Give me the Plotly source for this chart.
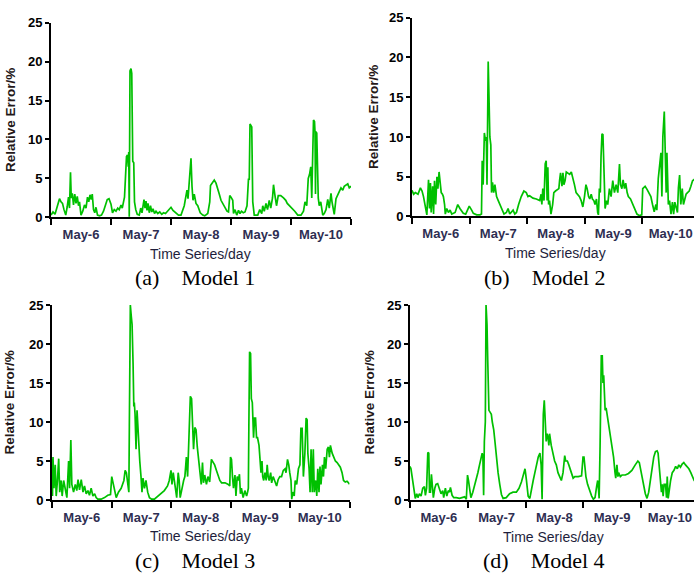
import plotly.graph_objects as go

W, H = 694, 582

day_labels = ["May-6", "May-7", "May-8", "May-9", "May-10"]
y_ticks = [0, 5, 10, 15, 20, 25]

# ---- Model 1: relative error (%) against hours since May-6 00:00 ----
m1_hours = [
    0, 0.8, 1.6, 2.4, 3.0, 3.4, 4.0, 4.6, 5.2, 5.9,
    6.5, 7.0, 7.4, 7.8, 8.1, 8.5, 9.0, 9.5, 10.0, 10.5,
    11.0, 11.4, 12.0, 12.7, 13.4, 14.0, 14.6, 15.1, 15.6, 16.1,
    16.5, 17.0, 17.5, 18.0, 18.6, 19.4, 20.2, 21.0, 21.8, 22.5,
    23.2, 24.0,
    24.6, 25.3, 26.0, 26.7, 27.3, 28.0, 28.5, 29.0, 29.4, 29.8,
    30.2, 30.6, 30.9, 31.1, 31.3, 31.6, 32.0, 32.3, 32.5, 32.7,
    33.1, 33.4, 33.9, 34.5, 35.3, 35.9, 36.4, 36.8, 37.2, 37.6,
    38.0, 38.4, 38.8, 39.3, 39.8, 40.3, 40.8, 41.4, 42.0, 42.7,
    43.5, 44.3, 45.0, 45.8, 46.6, 47.3, 48.0,
    48.8, 50.0, 51.0, 52.0, 53.3, 54.0, 54.4, 54.8, 55.5, 56.0,
    56.4, 56.8, 57.3, 58.0, 58.7, 59.7, 60.7, 61.5, 62.7, 63.5,
    63.8, 64.5, 65.3, 66.0, 66.6, 67.3, 68.0, 68.7, 69.5, 70.4,
    71.0, 71.5,
    72.0, 72.7, 73.0, 73.6, 74.3, 75.0, 75.6, 76.2, 76.9, 77.6,
    78.4, 78.8, 79.0, 79.3, 79.6, 80.3, 80.5, 80.7, 81.3, 82.7,
    83.5, 84.3, 84.7, 85.3, 86.0, 86.6, 87.3, 87.9, 88.6, 89.0,
    89.5, 90.2, 90.9, 91.9, 93.0, 93.9, 94.5, 95.5,
    96.5, 97.5, 98.7, 100.0, 101.0, 101.6, 102.3, 102.9, 103.4, 103.9,
    104.3, 104.6, 105.0, 105.4, 105.6, 105.8, 106.0, 106.3, 106.6, 106.9,
    107.3, 107.9, 108.7, 109.3, 110.0, 110.7, 111.3, 112.0, 112.4, 112.9,
    113.3, 114.0, 114.7, 115.3, 116.0, 116.7, 117.3, 118.0, 118.7, 119.3,
    120.0,
]
m1_err = [
    0.3, 0.7, 0.4, 1.2, 1.8, 2.4, 2.0, 1.8, 1.0, 0.3,
    1.4, 2.6, 1.2, 5.8, 2.5, 3.1, 1.6, 3.0, 1.8, 2.7,
    1.5, 2.0, 0.3, 0.8, 1.6, 1.2, 2.6, 2.0, 2.9, 2.3,
    3.0, 1.0, 0.6, 1.3, 0.3, 0.2, 0.3, 0.8, 1.6, 2.3,
    2.4, 1.7,
    0.6, 1.0, 0.8, 1.2, 1.0, 1.6, 1.2, 2.0, 2.6, 5.2,
    7.8, 8.0, 6.5, 8.4, 0.1, 18.8, 19.1, 18.5, 14.5, 7.2,
    7.0, 2.0, 1.0, 0.4, 0.3, 1.2, 0.6, 1.9, 2.3, 1.2,
    2.1, 0.9, 1.8, 0.6, 1.5, 0.7, 1.1, 0.5, 0.8, 0.5,
    0.7, 0.4, 0.6, 0.5, 0.8, 1.1, 1.3,
    0.9, 0.5, 0.3, 0.3, 1.5, 2.8, 3.5, 2.4, 5.5, 7.6,
    4.0, 2.2, 3.0, 1.8, 1.5, 0.6, 0.3, 0.2, 0.5, 2.0,
    4.1, 4.4, 4.8, 4.4, 3.6, 3.0, 2.2, 1.8, 1.3, 0.8,
    0.7, 2.8,
    2.6, 2.2, 0.5, 1.0, 0.3, 0.9, 0.5, 0.8, 0.6, 0.7,
    1.5, 3.5, 5.0, 4.8, 12.0, 11.6, 4.0, 2.0, 0.3, 0.3,
    1.0, 0.5, 1.5, 0.8, 1.8, 1.0, 2.2, 1.2, 2.5, 4.2,
    3.0, 1.5, 2.8, 2.8, 2.5, 2.2, 1.8, 1.5,
    1.2, 0.8, 0.3, 0.3, 0.8, 2.0, 1.5, 5.0, 5.5, 6.5,
    2.5, 8.0, 12.5, 12.3, 11.0, 3.0, 11.0, 10.8, 3.0, 2.5,
    1.5, 2.0, 0.3, 0.5, 1.0, 2.3, 1.2, 3.1, 2.0, 1.0,
    0.4, 2.4, 3.0, 3.3, 3.8, 3.5, 4.0, 4.1, 4.3, 3.8,
    4.0,
]

# ---- Model 2 ----
m2_hours = [
    0, 0.7, 1.4, 2.5, 3.5, 4.2, 4.8, 5.5, 6.2, 6.9,
    7.3, 7.7, 8.0, 8.6, 9.0, 9.4, 9.9, 10.4, 10.8, 11.3,
    11.8, 12.2, 12.7, 13.1, 13.6, 13.9, 14.5, 15.2, 15.9, 16.6,
    18.0, 19.1, 20.0, 20.7, 21.4, 22.4, 23.2, 23.9, 24.9, 25.6,
    27.0, 28.4, 29.0, 29.3, 29.7, 30.2, 30.7, 31.0, 31.3, 31.8,
    32.1, 32.5, 32.9, 33.2, 33.6, 34.1, 34.6, 35.3, 36.0, 36.7,
    37.6, 38.4, 39.4, 40.1, 40.8, 41.5, 42.2, 42.9, 43.6, 44.5,
    45.6, 46.7, 47.7, 48.4, 49.1, 50.5, 51.9, 53.3, 53.9, 54.2,
    54.6, 55.1, 55.6, 56.0, 56.4, 56.7, 57.0, 57.4, 58.0, 58.7,
    59.2, 59.9, 60.6, 61.3, 61.6, 62.0, 62.6, 63.0, 63.4, 63.9,
    64.4, 65.1, 65.8, 66.5, 67.1, 67.8, 68.5, 69.2, 69.9, 70.6,
    71.3, 72.0, 72.6, 73.1, 73.7, 74.2, 74.8, 75.3, 75.9, 76.4,
    77.0, 77.5, 77.8, 78.2, 78.6, 78.9, 79.3, 79.7, 80.0, 80.3,
    80.6, 81.2, 81.7, 82.4, 83.1, 83.8, 84.5, 85.2, 85.9, 86.6,
    87.0, 87.6, 88.1, 88.7, 89.2, 89.8, 90.3, 91.2, 91.7, 92.6,
    93.1, 93.9, 94.9, 95.9, 96.3, 97.3, 98.1, 99.1, 99.7, 100.4,
    101.1, 101.8, 102.2, 102.8, 103.3, 103.9, 104.3, 104.7, 105.3, 105.7,
    106.1, 106.4, 107.0, 107.5, 108.1, 108.7, 109.2, 109.7, 110.3, 110.8,
    111.2, 111.7, 112.2, 112.8, 113.3, 113.9, 114.4, 115.0, 115.7, 116.4,
    117.1, 118.5,
]
m2_err = [
    3.3, 2.8, 3.0, 2.8, 3.6, 3.2, 2.5, 1.5, 0.2, 4.6,
    1.0, 4.2, 0.5, 3.8, 0.3, 4.5, 1.5, 5.0, 3.5, 5.6,
    3.5, 3.0, 2.8, 2.5, 1.5, 0.3, 1.0, 0.5, 0.8, 0.3,
    0.5, 1.5, 1.0, 0.6, 0.4, 0.3, 0.8, 1.3, 0.8, 0.4,
    0.2, 0.2, 0.3, 7.0, 4.0, 10.5, 9.5, 10.0, 4.0, 19.5,
    15.5, 10.0, 9.0, 3.0, 4.3, 3.0, 4.0, 2.5, 2.0, 1.5,
    0.8, 0.3, 0.5, 1.0, 0.3, 0.5, 0.8, 0.3, 0.5, 1.5,
    2.5, 3.2, 3.0, 2.5, 2.6, 2.3, 2.2, 2.0, 2.8, 1.5,
    3.5, 2.0, 6.6, 7.0, 2.0, 6.2, 1.5, 2.0, 0.3, 1.5,
    3.0, 3.2, 3.3, 3.5, 4.5, 5.5, 3.8, 5.5, 4.0, 4.5,
    5.6, 5.5, 5.3, 5.6, 5.0, 4.0, 3.0, 2.7, 2.5, 2.0,
    1.2, 2.5, 4.0, 3.5, 2.5, 2.2, 2.8, 2.2, 2.0, 1.5,
    2.2, 0.5, 0.2, 3.5, 3.0, 7.5, 10.4, 10.3, 7.0, 4.0,
    1.0, 2.0, 1.5, 3.5, 2.5, 4.5, 3.0, 4.0, 3.0, 6.6,
    4.0, 3.5, 4.6, 3.5, 4.2, 3.0, 2.5, 2.2, 1.8, 1.2,
    0.8, 0.3, 0.1, 0.2, 3.5, 3.8, 3.4, 2.8, 2.5, 1.5,
    0.6, 1.5, 0.8, 4.8, 6.5, 8.0, 2.5, 10.0, 13.2, 7.0,
    3.0, 8.0, 1.5, 2.0, 0.3, 1.8, 0.3, 1.8, 1.2, 0.5,
    3.6, 5.2, 1.5, 3.5, 1.5, 2.5, 2.8, 3.0, 3.2, 3.8,
    4.5, 4.8,
]

# ---- Model 3 ----
m3_hours = [
    0, 0.2, 0.4, 0.8, 1.3, 1.7, 2.2, 2.7, 3.1, 3.7,
    4.1, 4.7, 5.3, 6.0, 6.7, 7.1, 7.6, 8.0, 8.7, 9.4,
    10.0, 10.5, 11.1, 11.8, 12.5, 13.1, 13.8, 14.5, 15.1, 15.8,
    16.5, 17.2, 17.8, 18.5, 19.8, 21.2, 22.5, 23.6,
    24.1, 24.7, 25.2, 25.9, 26.8, 27.9, 29.0, 29.5, 30.0, 30.6,
    31.0, 31.2, 31.6, 32.0, 32.3, 32.7, 33.0, 33.2, 33.5, 33.9,
    34.3, 34.7, 35.0, 35.4, 35.9, 36.3, 36.7, 37.3, 37.9, 38.6,
    39.3, 40.2, 41.3, 42.6, 44.0, 45.3, 46.6, 47.3, 48.0, 48.4,
    48.9, 49.6, 50.3, 50.9, 51.3, 51.7, 52.4, 53.1, 53.6, 54.2,
    54.7, 55.4, 55.8, 56.3, 56.7, 57.1, 57.6, 58.1, 58.6, 59.2,
    59.7, 60.2, 60.7, 61.1, 61.6, 62.3, 62.9, 63.6, 64.3, 65.0,
    65.6, 66.3, 67.0, 67.7, 68.4, 69.8, 71.1, 71.7, 72.0, 72.4,
    72.8, 73.2, 73.8, 74.2, 74.7, 75.2, 75.6, 76.0, 76.4, 77.1,
    77.8, 78.5, 78.9, 79.2, 79.4, 79.7, 80.1, 80.4, 80.8, 81.0,
    81.3, 81.7, 82.1, 82.5, 82.9, 83.5, 83.9, 84.3, 84.7, 85.0,
    85.4, 85.9, 86.4, 86.8, 87.2, 87.6, 88.2, 88.6, 89.2, 89.9,
    90.6, 91.2, 91.9, 92.6, 93.3, 94.0, 94.4, 95.0, 95.5, 95.9,
    96.4, 96.7, 97.1, 97.7, 98.1, 98.7, 99.4, 100.0, 100.4, 100.9,
    101.4, 102.0, 102.5, 102.9, 103.2, 103.7, 104.1, 104.5, 105.0, 105.4,
    105.8, 106.4, 106.8, 107.2, 107.7, 108.1, 108.5, 109.1, 109.5, 109.9,
    110.4, 111.0, 111.5, 111.9, 112.3, 113.0, 113.7, 114.3, 115.0, 115.6,
    116.3, 117.0, 117.6, 118.3, 119.0, 119.6, 120.0,
]
m3_err = [
    5.3, 0.5, 5.5, 1.5, 4.5, 0.5, 2.5, 5.3, 1.0, 2.5,
    0.5, 2.5, 1.5, 0.3, 5.0, 1.5, 7.7, 2.0, 1.0, 2.0,
    1.2, 2.6, 1.3, 2.6, 1.0, 1.8, 0.8, 1.2, 0.6, 1.5,
    0.5, 0.8, 0.3, 0.1, 0.1, 0.3, 0.6, 0.7,
    3.0, 2.0, 1.0, 0.3, 1.0, 1.5, 2.5, 3.8, 3.5, 2.0,
    1.0, 9.5, 25.0, 23.5, 22.5, 17.5, 12.0, 12.5, 11.0, 6.5,
    11.5, 9.0, 6.0, 5.0, 3.0, 1.0, 2.8, 1.5, 2.5, 1.0,
    0.3, 0.1, 0.1, 0.5, 0.8, 1.2, 1.8, 2.5, 3.8, 2.0,
    3.5, 1.5, 0.3, 3.5, 2.5, 0.3, 1.5, 2.5, 3.0, 5.5,
    3.0, 10.0, 13.3, 13.0, 10.0, 6.5, 9.3, 9.0, 6.8, 5.0,
    4.0, 2.0, 4.8, 2.2, 3.2, 2.0, 3.0, 2.3, 5.2, 4.8,
    4.5, 3.8, 3.0, 2.5, 2.2, 2.2, 2.0, 1.8, 5.5, 5.2,
    3.0, 1.5, 3.2, 0.5, 3.0, 2.5, 3.3, 0.8, 1.5, 0.3,
    1.2, 0.5, 1.0, 1.5, 9.3, 19.0, 18.8, 13.0, 12.5, 11.0,
    8.0, 10.5, 10.5, 8.0, 8.0, 7.0, 5.0, 3.5, 5.0, 3.0,
    2.5, 3.5, 2.5, 4.5, 3.0, 2.5, 3.5, 2.2, 3.0, 2.3,
    1.8, 2.6, 3.0, 3.0, 3.8, 4.0, 3.5, 5.2, 4.5, 3.5,
    2.5, 0.1, 1.0, 0.5, 2.5, 2.0, 4.0, 4.5, 9.2, 9.2,
    3.0, 6.0, 10.5, 10.3, 6.0, 4.0, 1.0, 6.5, 1.0, 6.5,
    1.0, 2.5, 0.5, 4.0, 1.0, 4.3, 2.0, 4.5, 3.0, 5.5,
    4.0, 6.5, 6.8, 5.5, 7.0, 6.0, 5.5, 5.0, 4.8, 4.5,
    4.2, 3.5, 2.5, 2.3, 2.4, 2.2, 2.0,
]

# ---- Model 4 ----
m4_hours = [
    0, 0.4, 1.1, 1.8, 2.2, 2.8, 3.3, 3.9, 4.6, 5.3,
    6.0, 6.4, 6.9, 7.4, 7.8, 8.1, 8.5, 8.9, 9.3, 9.7,
    10.3, 10.8, 11.5, 12.2, 12.9, 13.6, 14.0, 14.7, 15.3, 15.9,
    16.4, 16.8, 17.5, 18.2, 19.2, 20.6, 21.7, 22.7, 23.4, 23.9,
    24.3, 24.8, 25.3, 26.1, 26.8, 27.5, 28.2, 28.9, 29.6, 30.0,
    30.3, 30.6, 30.9, 31.3, 31.6, 32.0, 32.3, 32.5, 32.8, 33.4,
    33.8, 34.2, 34.8, 35.3, 35.9, 36.6, 37.3, 38.0, 38.7, 40.0,
    41.4, 42.8, 44.2, 45.3, 46.3, 47.3, 47.8, 48.4, 49.1, 49.8,
    50.5, 51.2, 51.9, 52.6, 53.3, 54.0, 54.5, 54.9, 55.4, 55.8,
    56.2, 56.6, 57.0, 57.4, 57.7, 58.0, 58.7, 59.4, 60.1, 60.8,
    61.5, 62.2, 62.9, 63.6, 64.3, 64.7, 65.4, 66.0, 66.5, 67.1,
    67.8, 68.5, 69.9, 71.3, 71.9, 72.3, 72.7, 73.1, 73.8, 74.8,
    75.5, 76.2, 76.9, 77.6, 78.0, 78.3, 78.6, 79.0, 79.5, 79.9,
    80.2, 80.5, 80.8, 81.1, 81.5, 81.9, 82.5, 83.2, 83.9, 84.6,
    85.2, 85.5, 86.0, 86.4, 86.7, 87.4, 88.1, 89.5, 90.8, 92.2,
    93.6, 94.7, 95.3, 95.8, 96.4, 97.1, 97.8, 98.5, 99.2, 99.9,
    100.6, 101.3, 102.0, 102.7, 103.1, 103.7, 104.1, 104.5, 104.8, 105.2,
    105.6, 106.2, 106.6, 106.9, 107.3, 107.9, 108.3, 109.0, 109.7, 110.4,
    111.1, 111.7, 112.4, 113.1, 113.8, 114.5, 115.2, 115.9, 116.7, 117.4,
    118.1, 118.8,
]
m4_err = [
    4.3, 4.0, 2.5, 1.0, 0.2, 0.8, 0.3, 0.8, 0.5, 1.5,
    1.7, 0.6, 1.5, 6.1, 6.0, 1.0, 1.0, 3.3, 1.0, 0.3,
    1.5, 2.0, 2.1, 1.5, 0.8, 1.2, 0.3, 1.5, 0.5, 1.2,
    1.0, 1.6, 0.6, 0.3, 0.3, 0.2, 0.3, 0.4, 0.1, 3.2,
    2.5, 1.0, 0.3, 1.0, 1.8, 2.5, 3.5, 4.5, 5.5, 6.0,
    5.5, 0.6, 7.5, 10.0, 25.0, 22.5, 18.0, 15.0, 11.5, 11.2,
    11.0, 10.0, 9.0, 7.5, 5.5, 3.5, 2.0, 0.7, 0.2, 0.3,
    0.8, 1.0, 1.0, 1.5, 2.3, 3.5, 4.0, 2.5, 0.5, 0.2,
    1.5, 2.5, 3.5, 4.5, 5.5, 6.0, 4.5, 0.1, 11.0, 12.8,
    10.0, 7.5, 8.5, 8.0, 7.0, 8.5, 7.0, 6.0, 5.0, 4.5,
    3.5, 3.0, 2.5, 3.5, 5.7, 5.0, 5.0, 4.5, 4.0, 3.5,
    2.8, 3.0, 3.0, 3.1, 5.5, 5.5, 4.0, 3.0, 2.0, 1.0,
    0.5, 0.1, 0.3, 1.8, 2.5, 1.5, 0.2, 7.0, 18.5, 18.5,
    15.0, 16.0, 13.0, 11.5, 11.8, 11.0, 10.0, 8.5, 7.0, 5.5,
    3.5, 2.8, 4.5, 3.0, 3.5, 3.0, 3.2, 3.2, 3.4, 3.8,
    4.5, 5.0, 4.8, 4.0, 3.0, 1.8, 0.8, 0.2, 1.0, 2.5,
    4.0, 5.5, 6.2, 6.3, 6.0, 4.0, 2.5, 1.0, 2.0, 0.5,
    2.0, 2.0, 0.3, 3.0, 0.2, 2.0, 2.5, 3.5, 3.8, 4.3,
    4.0, 4.5, 4.2, 4.6, 4.8, 4.5, 4.3, 4.0, 3.5, 3.0,
    2.5, 2.3,
]

captions = ["(a)", "(b)", "(c)", "(d)"]
model_names = ["Model 1", "Model 2", "Model 3", "Model 4"]
series = [(m1_hours, m1_err), (m2_hours, m2_err), (m3_hours, m3_err), (m4_hours, m4_err)]

# pixel frame of each panel: left edge, right edge, y=25 row, y=0 row, pixels per day
frames = [
    (51, 351, 16, 216, 60.0),
    (412, 694, 11, 215, 57.5),
    (52, 349.5, 306, 506, 59.5),
    (410, 694, 306, 506, 57.75),
]
# pixel anchors for the y title, x title and caption of each panel
ytitle_pos = [(10, 116), (373, 113), (10, 406), (370, 406)]
xtitle_pos = [(201, 254), (555, 252), (200, 543), (553, 544)]
caption_pos = [(195, 278), (545, 278), (195, 568), (544, 568)]

GREEN = "#00c000"
SANS = "Liberation Sans, Arial, sans-serif"
SERIF = "Liberation Serif, Times New Roman, serif"

fig = go.Figure()
layout = dict(
    width=W, height=H,
    margin=dict(l=0, r=0, t=0, b=0),
    paper_bgcolor="white", plot_bgcolor="white",
    showlegend=False,
    annotations=[],
)

def px(x):
    return x / W

def py(y):
    return 1 - y / H

for i, ((hrs, err), (left, right, top, bottom, dw)) in enumerate(zip(series, frames)):
    assert len(hrs) == len(err)
    n = "" if i == 0 else str(i + 1)
    fig.add_trace(go.Scatter(
        x=[h / 24 for h in hrs], y=err, mode="lines",
        line=dict(color=GREEN, width=1.7),
        xaxis="x" + n, yaxis="y" + n, hoverinfo="skip",
    ))
    layout["xaxis" + n] = dict(
        domain=[px(left), px(right)],
        range=[0, (right - left) / dw],
        anchor="y" + n,
        showline=True, linecolor="black", linewidth=2,
        showgrid=False, zeroline=False,
        tickmode="array", tickvals=[k + 0.5 for k in range(5)], ticktext=day_labels,
        ticks="", ticklabelstandoff=4,
        tickfont=dict(family=SANS, size=13, color="#2e2e52", weight="bold"),
        minor=dict(tickmode="array", tickvals=[0, 1, 2, 3, 4, 5], ticks="outside",
                   ticklen=6, tickwidth=1.5, tickcolor="black", showgrid=False),
        fixedrange=True,
    )
    layout["yaxis" + n] = dict(
        domain=[py(bottom), py(top)],
        range=[0, 25],
        anchor="x" + n,
        showline=True, linecolor="black", linewidth=2,
        showgrid=False, zeroline=False,
        tickmode="array", tickvals=y_ticks,
        ticks="outside", ticklen=4, tickwidth=1.5, tickcolor="black",
        tickfont=dict(family=SANS, size=13, color="black", weight="bold"),
        fixedrange=True,
    )
    tx, ty = ytitle_pos[i]
    layout["annotations"].append(dict(
        text="Relative Error/%", x=px(tx), y=py(ty), xref="paper", yref="paper",
        xanchor="center", yanchor="middle", textangle=-90, showarrow=False,
        font=dict(family=SANS, size=13.5, color="#241818", weight="bold"),
    ))
    tx, ty = xtitle_pos[i]
    layout["annotations"].append(dict(
        text="Time Series/day", x=px(tx), y=py(ty), xref="paper", yref="paper",
        xanchor="center", yanchor="middle", showarrow=False,
        font=dict(family=SANS, size=14, color="#1e1e3c"),
    ))
    tx, ty = caption_pos[i]
    layout["annotations"].append(dict(
        text=captions[i] + "\u00a0\u00a0\u00a0\u00a0" + model_names[i],
        x=px(tx), y=py(ty), xref="paper", yref="paper",
        xanchor="center", yanchor="middle", showarrow=False,
        font=dict(family=SERIF, size=22, color="black"),
    ))

fig.update_layout(**layout)
fig.write_html("out.html")
